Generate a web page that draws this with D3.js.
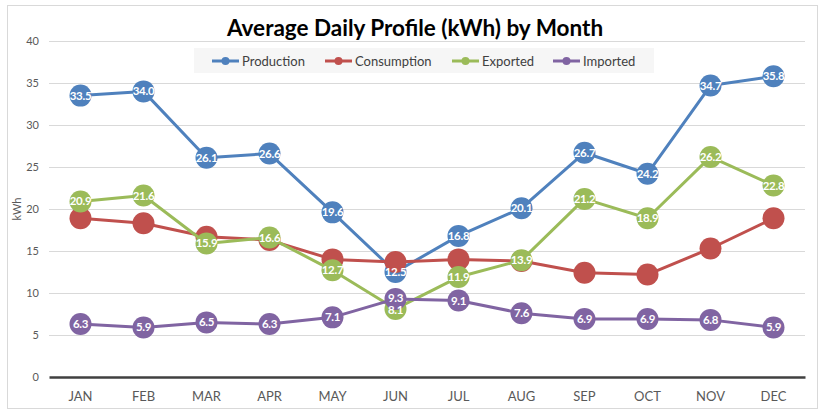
<!DOCTYPE html>
<html>
<head>
<meta charset="utf-8">
<script src="https://cdn.jsdelivr.net/npm/d3@7"></script>
<style>
  body { margin: 0; background: #fff; }
  svg { font-family: Lato, "Open Sans", sans-serif; }
</style>
</head>
<body>
<div id="chart"></div>
<script>
// data
var months = ["JAN","FEB","MAR","APR","MAY","JUN","JUL","AUG","SEP","OCT","NOV","DEC"];
var production  = [33.5, 34.0, 26.1, 26.6, 19.6, 12.5, 16.8, 20.1, 26.7, 24.2, 34.7, 35.8];
var consumption = [18.9, 18.3, 16.7, 16.3, 14.0, 13.7, 14.0, 13.8, 12.4, 12.2, 15.3, 18.9];
var exported    = [20.9, 21.6, 15.9, 16.6, 12.7, 8.1, 11.9, 13.9, 21.2, 18.9, 26.2, 22.8];
var imported    = [6.3, 5.9, 6.5, 6.3, 7.1, 9.3, 9.1, 7.6, 6.9, 6.9, 6.8, 5.9];
var yTicks = [0, 5, 10, 15, 20, 25, 30, 35, 40];

var series = [
    {name: "Production",  values: production,  color: "#4f81bd", labels: true},
    {name: "Consumption", values: consumption, color: "#c0504d", labels: false},
    {name: "Exported",    values: exported,    color: "#9bbb59", labels: true},
    {name: "Imported",    values: imported,    color: "#8064a2", labels: true}
];

var width = 825, height = 415;
var margin = {top: 41, right: 20, bottom: 38, left: 49};

var svg = d3.select("#chart").append("svg")
    .attr("width", width)
    .attr("height", height);

// outer chart border
svg.append("rect")
    .attr("x", 7.5).attr("y", 5.5)
    .attr("width", 810).attr("height", 403)
    .attr("fill", "#fff")
    .attr("stroke", "#d9d9d9");

var x = d3.scaleBand()
    .domain(months)
    .range([margin.left, width - margin.right]);

var y = d3.scaleLinear()
    .domain([0, 40])
    .range([height - margin.bottom, margin.top]);

// gridlines
svg.append("g")
    .selectAll("line")
    .data(yTicks.slice(1))
    .enter().append("line")
    .attr("x1", margin.left).attr("x2", width - margin.right)
    .attr("y1", function(d){ return y(d) + 0.5; })
    .attr("y2", function(d){ return y(d) + 0.5; })
    .attr("stroke", "#d9d9d9");

// y axis labels
var yAxis = d3.axisLeft(y).tickValues(yTicks).tickSize(0).tickPadding(10);
svg.append("g")
    .attr("transform", "translate(" + margin.left + ",0)")
    .call(yAxis)
    .call(function(g){ g.select(".domain").remove(); })
    .selectAll("text")
    .attr("fill", "#595959")
    .style("font-size", "11px")
    .style("font-family", "Lato, sans-serif");

// x axis
var xAxis = d3.axisBottom(x).tickSize(0).tickPadding(15);
var xg = svg.append("g")
    .attr("transform", "translate(0," + y(0) + ")")
    .call(xAxis);
xg.select(".domain").attr("stroke", "#404040").attr("stroke-width", 2.5);
xg.selectAll("text")
    .attr("fill", "#595959")
    .style("font-size", "13px")
    .style("font-family", "Lato, sans-serif");

// axis title
svg.append("text")
    .attr("transform", "translate(21," + y(20) + ") rotate(-90)")
    .attr("text-anchor", "middle")
    .attr("fill", "#595959")
    .style("font-size", "11px")
    .text("kWh");

// chart title
svg.append("text")
    .attr("x", 415).attr("y", 36)
    .attr("text-anchor", "middle")
    .attr("fill", "#000")
    .style("font-size", "22.5px")
    .style("font-weight", "bold")
    .text("Average Daily Profile (kWh) by Month");

// lines and markers
var line = d3.line()
    .x(function(d, i){ return x(months[i]) + x.bandwidth() / 2; })
    .y(function(d){ return y(d); });

series.forEach(function(s){
    svg.append("path")
        .datum(s.values)
        .attr("fill", "none")
        .attr("stroke", s.color)
        .attr("stroke-width", 3)
        .attr("stroke-linejoin", "round")
        .attr("d", line);

    svg.append("g")
        .selectAll("circle")
        .data(s.values)
        .enter().append("circle")
        .attr("cx", function(d, i){ return x(months[i]) + x.bandwidth() / 2; })
        .attr("cy", function(d){ return y(d); })
        .attr("r", 11)
        .attr("fill", s.color);
});

// data labels: collect per month, push apart labels that would collide
var labelSeries = series.filter(function(s){ return s.labels; });
var labels = [];
months.forEach(function(m, i){
    var col = labelSeries.map(function(s){ return {v: s.values[i], i: i, py: y(s.values[i])}; });
    col.sort(function(a, b){ return a.py - b.py; });
    for (var k = 1; k < col.length; k++){
        var gap = col[k].py - col[k-1].py;
        if (gap < 12){
            var push = (12 - gap) / 2;
            col[k-1].py -= push;
            col[k].py += push;
        }
    }
    labels = labels.concat(col);
});

svg.append("g")
    .selectAll("text")
    .data(labels)
    .enter().append("text")
    .attr("x", function(d){ return x(months[d.i]) + x.bandwidth() / 2; })
    .attr("y", function(d){ return d.py; })
    .attr("dy", "0.35em")
    .attr("text-anchor", "middle")
    .attr("fill", "#fff")
    .style("font-size", "11.5px")
    .style("font-weight", "bold")
    .style("letter-spacing", "-0.3px")
    .text(function(d){ return d.v.toFixed(1); });

// legend
var legend = svg.append("g");
legend.append("rect")
    .attr("x", 194).attr("y", 48)
    .attr("width", 460).attr("height", 25)
    .attr("fill", "#f2f2f2")
    .attr("opacity", 0.7);

var legendX = [212, 325, 452, 553];
series.forEach(function(s, i){
    var g = legend.append("g")
        .attr("transform", "translate(" + legendX[i] + ",61)");
    g.append("line")
        .attr("x1", 0).attr("x2", 27)
        .attr("stroke", s.color)
        .attr("stroke-width", 3);
    g.append("circle")
        .attr("cx", 13.5).attr("r", 4)
        .attr("fill", s.color);
    g.append("text")
        .attr("x", 30).attr("dy", "0.35em")
        .attr("fill", "#404040")
        .style("font-size", "13px")
        .text(s.name);
});
</script>
</body>
</html>
